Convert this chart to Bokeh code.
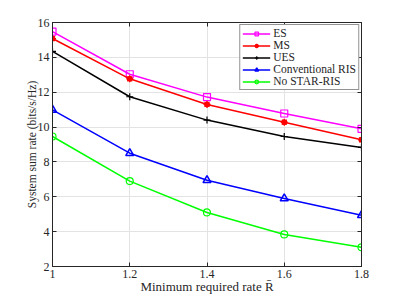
from bokeh.plotting import figure
from bokeh.models import LinearAxis, FixedTicker, Legend, LegendItem, Range1d, CustomJSTickFormatter
from bokeh.embed import file_html
from bokeh.resources import INLINE

x_vals = [1.0, 1.2, 1.4, 1.6, 1.8]
es = [15.48, 13.03, 11.72, 10.78, 9.90]
ms = [15.08, 12.77, 11.30, 10.28, 9.27]
ues = [14.34, 11.74, 10.40, 9.46, 8.83]
conv = [10.99, 8.50, 6.95, 5.90, 4.94]
nostar = [9.46, 6.90, 5.10, 3.84, 3.10]

x_ticks = [1.0, 1.2, 1.4, 1.6, 1.8]
y_ticks = [2, 4, 6, 8, 10, 12, 14, 16]

FONT = "Liberation Serif"
AX = "#262626"

p = figure(width=399, height=299, output_backend="svg", toolbar_location=None,
           x_range=Range1d(1.0, 1.8), y_range=Range1d(2, 16),
           min_border_left=52, min_border_right=38, min_border_top=22, min_border_bottom=33,
           x_axis_label="Minimum required rate R\u0304",
           y_axis_label="System sum rate (bits/s/Hz)")
p.outline_line_color = AX
p.outline_line_width = 1

for ax in [p.xaxis[0], p.yaxis[0]]:
    ax.axis_line_color = AX
    ax.major_tick_line_color = AX
    ax.major_tick_in = 4
    ax.major_tick_out = 0
    ax.minor_tick_line_color = None
    ax.major_label_text_font = FONT
    ax.major_label_text_font_size = "12px"
    ax.major_label_text_color = AX
    ax.axis_label_text_font = FONT
    ax.axis_label_text_font_style = "normal"
    ax.axis_label_text_color = AX
    ax.major_label_standoff = 3
p.xaxis[0].axis_label_text_font_size = "13px"
p.xaxis[0].axis_label_standoff = -2
p.yaxis[0].axis_label_text_font_size = "11.5px"
p.yaxis[0].axis_label_standoff = -3
p.xaxis[0].ticker = FixedTicker(ticks=x_ticks)
p.yaxis[0].ticker = FixedTicker(ticks=y_ticks)

blank = CustomJSTickFormatter(code="return ''")
r_ax = LinearAxis(ticker=FixedTicker(ticks=y_ticks), formatter=blank,
                  major_tick_in=4, major_tick_out=0, minor_tick_line_color=None,
                  axis_line_color=AX, major_tick_line_color=AX, major_label_standoff=0)
t_ax = LinearAxis(ticker=FixedTicker(ticks=x_ticks), formatter=blank,
                  major_tick_in=4, major_tick_out=0, minor_tick_line_color=None,
                  axis_line_color=AX, major_tick_line_color=AX, major_label_standoff=0)
p.add_layout(r_ax, "right")
p.add_layout(t_ax, "above")

p.xgrid.ticker = FixedTicker(ticks=x_ticks)
p.ygrid.ticker = FixedTicker(ticks=y_ticks)
p.grid.grid_line_color = "#e3e3e3"
p.grid.grid_line_width = 1

lw = 1.5
items = []
l1 = p.line(x_vals, es, line_color="#ff00ff", line_width=lw)
m1 = p.scatter(x_vals, es, marker="square", size=7, line_color="#ff00ff", fill_color=None, line_width=1.2)
items.append(LegendItem(label="ES", renderers=[l1, m1]))
l2 = p.line(x_vals, ms, line_color="#ff0000", line_width=lw)
m2 = p.scatter(x_vals, ms, marker="circle", size=5, line_color="#ff0000", fill_color="#ff0000")
m2b = p.scatter(x_vals, ms, marker="asterisk", size=7, line_color="#ff0000", line_width=1.2)
items.append(LegendItem(label="MS", renderers=[l2, m2, m2b]))
l3 = p.line(x_vals, ues, line_color="black", line_width=lw)
m3 = p.scatter(x_vals, ues, marker="cross", size=7, line_color="black", line_width=1.2)
items.append(LegendItem(label="UES", renderers=[l3, m3]))
l4 = p.line(x_vals, conv, line_color="#0000ff", line_width=lw)
m4 = p.scatter(x_vals, conv, marker="triangle", size=8, line_color="#0000ff", fill_color=None, line_width=1.5)
items.append(LegendItem(label="Conventional RIS", renderers=[l4, m4]))
l5 = p.line(x_vals, nostar, line_color="#00ff00", line_width=lw)
m5 = p.scatter(x_vals, nostar, marker="circle", size=7, line_color="#00ff00", fill_color=None, line_width=1.2)
items.append(LegendItem(label="No STAR-RIS", renderers=[l5, m5]))

legend = Legend(items=items, location="top_right")
legend.label_text_font = FONT
legend.label_text_font_size = "11.5px"
legend.label_text_color = AX
legend.label_height = 9
legend.glyph_height = 9
legend.glyph_width = 28
legend.spacing = 0
legend.padding = 2
legend.margin = 2
legend.label_standoff = 3
legend.border_line_color = AX
legend.border_line_width = 1
legend.background_fill_alpha = 1
p.add_layout(legend)

open("out.html", "w").write(file_html(p, INLINE))
